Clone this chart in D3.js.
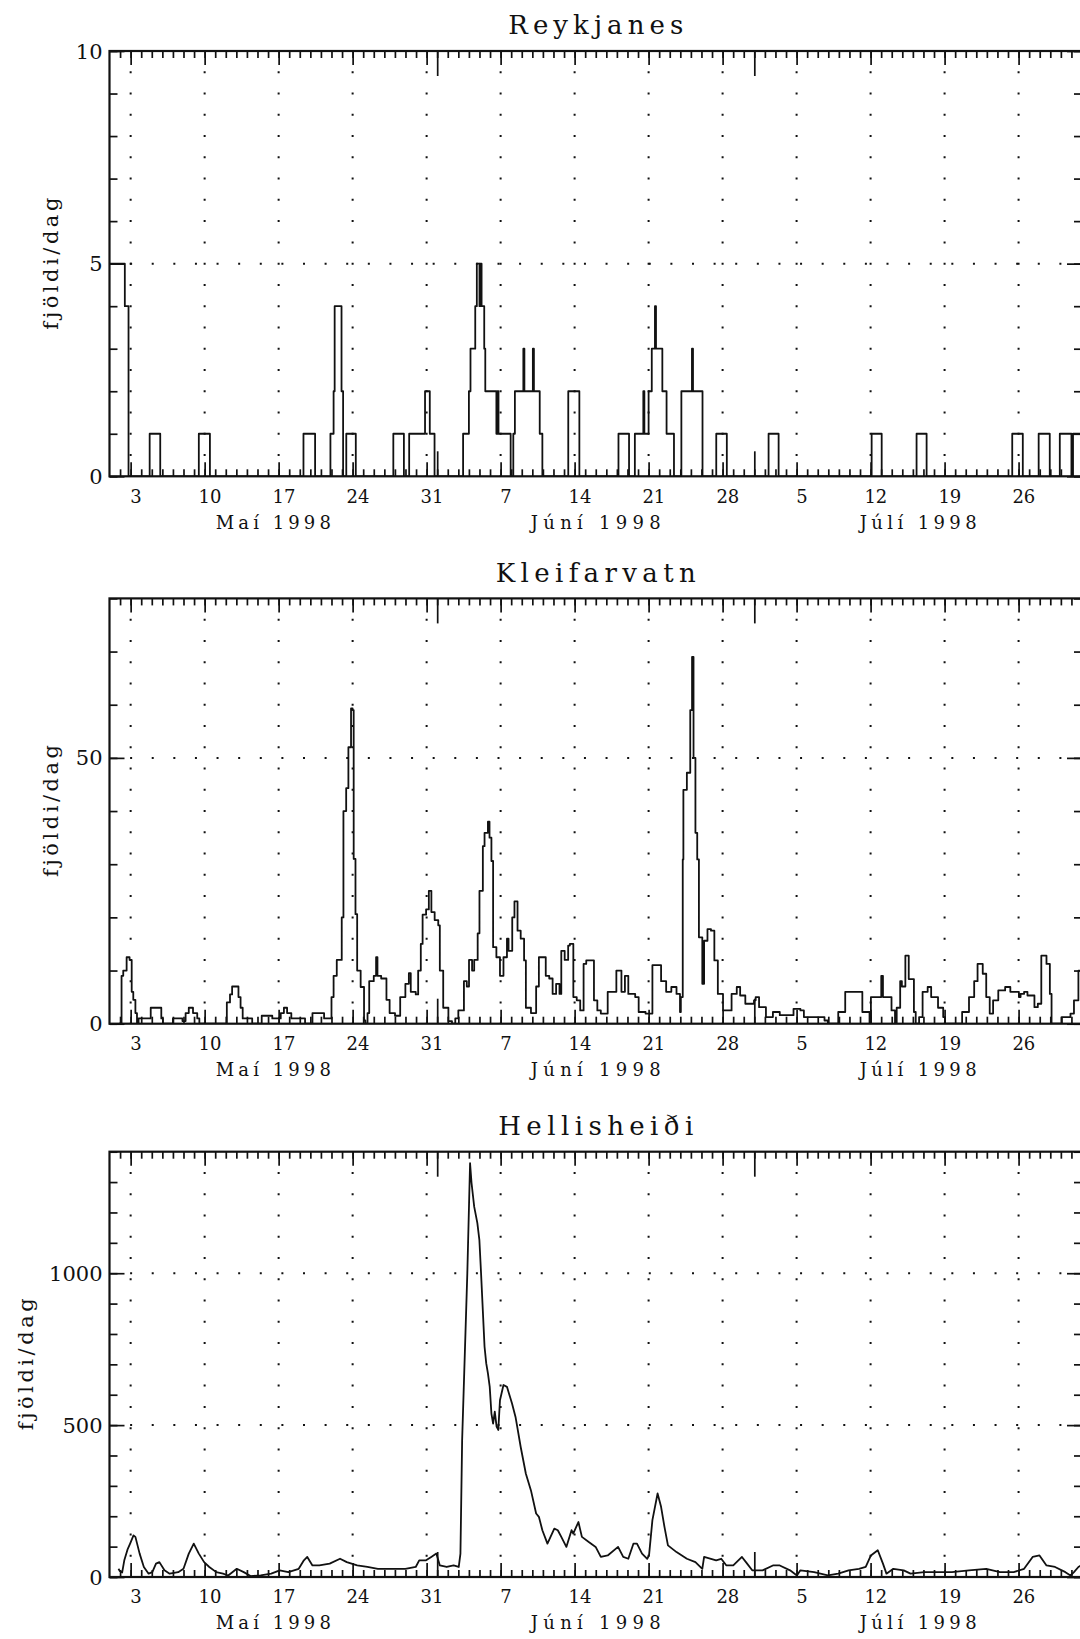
<!DOCTYPE html>
<html>
<head>
<meta charset="utf-8">
<script src="https://cdn.jsdelivr.net/npm/d3@7"></script>
<style>
  body { margin: 0; background: #fff; }
  svg text { font-family: "DejaVu Serif", serif; fill: #111; }
</style>
</head>
<body>
<div id="chart"></div>
<script>
// days are counted from 1 May 1998 00:00, the plots run to 1 Aug 1998
const weekDays = [2, 9, 16, 23, 30, 37, 44, 51, 58, 65, 72, 79, 86]
const weekLabels = ["3", "10", "17", "24", "31", "7", "14", "21", "28", "5", "12", "19", "26"]
const monthStarts = [0, 31, 61, 92]
const monthLabels = ["Maí 1998", "Júní 1998", "Júlí 1998"]

const titles = ["Reykjanes", "Kleifarvatn", "Hellisheiði"]
const yTitle = "fjöldi/dag"
const yMax = [10, 80, 1400]
const yMinorStep = [1, 10, 100]
const yMajor = [[0, 5, 10], [0, 50], [0, 500, 1000]]

// Reykjanes, step values (value holds from that day on)
const reykDay = [0, 1.45, 1.8, 3.8, 4.8, 8.45, 9.5, 18.35, 19.45, 20.9, 21.2, 21.3, 21.95, 22.1, 22.4, 23.3,
  26.85, 27.85, 28.35, 29.85, 30.3, 30.75, 33.45, 34.0, 34.15, 34.6, 34.75, 35.0, 35.05, 35.2, 35.45, 35.55,
  36.6, 36.7, 36.8, 37.95, 38.2, 38.35, 39.15, 39.25, 40.05, 40.15, 40.7, 40.95, 43.4, 44.45, 48.15, 49.15,
  49.7, 50.5, 50.6, 51.0, 51.3, 51.6, 51.7, 52.3, 52.7, 53.4, 54.1, 55.1, 55.2, 56.1, 57.4, 58.4,
  62.35, 63.3, 72.1, 73.05, 76.35, 77.3, 85.4, 86.4, 87.9, 88.95, 89.9, 91.0, 91.15, 92]
const reykVal = [5, 4, 0, 1, 0, 1, 0, 1, 0, 1, 2, 4, 2, 0, 1, 0,
  1, 0, 1, 2, 1, 0, 1, 2, 3, 4, 5, 4, 5, 4, 3, 2,
  1, 2, 1, 0, 1, 2, 3, 2, 3, 2, 1, 0, 2, 0, 1, 0,
  1, 2, 1, 2, 3, 4, 3, 2, 1, 0, 2, 3, 2, 0, 1, 0,
  1, 0, 1, 0, 1, 0, 1, 0, 1, 0, 1, 0, 1, 1]

// Kleifarvatn
const kleifDay = [0.9, 1.0, 1.14, 1.3, 1.62, 1.9, 2.1, 2.25, 2.45, 2.6,
  2.75, 3.5, 3.9, 4.6, 4.9, 5.05,
  6.0, 6.5, 6.9, 7.2, 7.5, 7.9, 8.3, 8.5,
  10.9, 11.1, 11.4, 11.6, 11.95, 12.2, 12.4, 12.6, 13.2, 13.5,
  14.2, 14.4, 15.2, 15.4, 16.0, 16.2, 16.5, 16.8, 17.2, 18.2, 18.5, 19.0, 19.2, 19.9, 20.3, 20.8,
  21.0, 21.2, 21.5, 21.85, 21.97, 22.13, 22.39, 22.6, 22.85, 23.0, 23.1, 23.27, 23.43, 23.76, 24.08, 24.2,
  24.41, 24.57, 25.0, 25.22, 25.35, 25.7, 26.2, 26.5, 26.8, 27.01, 27.5, 27.99, 28.32, 28.5, 28.97, 29.2,
  29.45, 29.62, 29.95, 30.21, 30.45, 30.76, 31.1, 31.25, 31.57, 32.06, 32.4,
  32.71, 33.0, 33.53, 33.8, 34.01, 34.3, 34.5, 34.83, 35.0, 35.32, 35.48, 35.8, 35.95, 36.13, 36.29, 36.6,
  36.94, 37.27, 37.6, 37.75, 38.1, 38.31, 38.6, 38.9, 39.22, 39.39, 39.87, 40.36,
  40.62, 40.95, 41.27, 41.6, 41.92, 42.25, 42.57, 42.74, 43.06, 43.39, 43.55, 43.88, 44.2, 44.53, 44.85, 45.1,
  45.66, 45.83, 46.15, 46.48, 47.13, 47.95, 48.43, 48.76, 49.08, 49.73, 50.06, 50.71, 51.04, 51.36, 52.01, 52.18,
  52.66, 53.15, 53.64, 53.97,
  54.05, 54.23, 54.29, 54.62, 54.94, 55.11, 55.25, 55.43, 55.6, 55.76, 56.08, 56.25, 56.57, 56.9, 57.22, 57.55,
  58.04, 58.36, 58.85, 59.34, 59.66, 60.15, 60.97, 61.13, 61.45, 62.1, 62.76, 63.41, 64.71, 65.36, 65.69, 66.66,
  67.64, 67.96,
  68.6, 68.94, 69.6, 70.4, 71.22, 71.9, 72.03, 72.85, 73.01, 73.17, 73.82, 73.98, 74.31, 74.47, 74.8, 74.96,
  75.29, 75.61, 76.1, 76.27, 76.59, 76.92, 77.4, 77.73, 78.38, 78.87, 79.03,
  80.2, 80.66, 81.31, 81.8, 82.12, 82.61, 82.94, 83.27, 83.59, 84.08, 84.73, 85.22, 85.54, 86.03, 86.19, 86.52,
  86.84, 87.5, 87.82, 88.15, 88.64, 88.96, 89.12, 90.1, 90.91, 91.24, 91.66, 92]
const kleifVal = [0, 0, 9, 10, 12.5, 12, 6, 4.5, 2, 0,
  1, 1, 3, 3, 1, 0,
  1, 1, 0.5, 2, 3, 2, 1, 0,
  0, 4, 5.5, 7, 7, 5, 3, 1, 1, 0,
  0, 1.5, 1.5, 1, 1, 2, 3, 2, 1, 1, 0, 0, 2, 2, 1, 1,
  5, 9, 12, 12, 20, 40, 44.3, 52, 59.3, 59, 31, 20.6, 10, 6.9, 0.6, 0,
  2, 8, 9, 12.5, 9, 8.5, 4.5, 2, 2, 1.5, 5, 7.5, 9.5, 6, 5.5, 10,
  15, 20.5, 21.5, 25, 21, 19.5, 18.5, 10, 3, 0.5, 0,
  1, 2.5, 8, 7, 12, 10, 12, 17, 25, 33.4, 35.9, 38, 35, 30.6, 14.4, 12.5,
  9, 12.5, 16, 13.7, 20, 23, 17.5, 16, 11.9, 3, 2, 7,
  12.5, 12.5, 9, 8.5, 5.6, 7.5, 5.6, 13.7, 12, 14.7, 15, 5, 4.4, 2.5, 11.25, 11.9,
  11.9, 4.4, 2.5, 1.9, 6, 10, 6, 9, 5.6, 5, 2.2, 1.9, 1.9, 11, 11, 8,
  6, 6.9, 5.6, 2.2,
  5, 30.9, 44, 47.2, 59, 69, 50, 35.9, 30.9, 16.25, 7.5, 15.6, 17.8, 17.5, 11.9, 5.6,
  2.5, 2.5, 5.6, 6.9, 5.3, 3.75, 4.4, 5, 3.1, 1.25, 2.2, 1.6, 2.8, 2.5, 1.25, 1.25,
  0.6, 0,
  0, 2.2, 6, 6, 2.2, 0, 5, 5, 9, 5, 5, 2.5, 0, 3, 8, 7,
  12.8, 8.4, 2.2, 0, 1.25, 6, 6.9, 5, 3, 1.25, 0,
  0, 2.2, 5, 8, 11.25, 9.4, 5, 1.9, 4.4, 6.25, 6.9, 6, 6, 5, 5.6, 6,
  5.3, 3.1, 3.75, 12.8, 11.25, 5.6, 0, 1.25, 1.9, 4.4, 10, 10]

// Hellisheiði
const hellDay = [0.85, 0.97, 1.2, 1.4, 1.7, 1.95, 2.27, 2.45, 2.85, 3.25, 3.7, 4.05, 4.4, 4.72, 5.2, 5.69,
  6.5, 7.0, 7.5, 7.97, 8.45, 8.95, 9.44, 10.1, 10.74, 11.23, 12.04, 12.7, 13.34, 14.3, 15.3, 16.1, 16.92,
  17.9, 18.39, 18.71, 19.2, 19.85, 20.83, 21.81, 22.45, 23.43, 24.4, 25.39, 27.0, 27.99, 28.97, 29.3, 29.95,
  30.44, 30.92, 31.25, 31.9, 32.55, 33.04, 33.2,
  33.36, 33.85, 34.11, 34.25, 34.5, 34.8, 34.99, 35.15, 35.48, 35.64, 35.8, 35.97, 36.13, 36.29, 36.45, 36.62,
  36.78, 36.94, 37.27, 37.6, 38.08, 38.41, 38.57, 38.9, 39.39, 39.87, 40.36,
  40.62, 40.95, 41.43, 42.08, 42.41, 42.74, 43.22, 43.71, 43.87, 44.36, 44.69, 45.34, 45.99, 46.48, 47.13, 48.11,
  48.6, 49.08, 49.57, 49.9, 50.38, 50.87, 51.04, 51.36, 51.85, 52.18, 52.5, 52.83, 53.64, 54.62, 55.43, 56.08,
  56.25, 56.9, 57.39, 57.87, 58.36, 59.01, 59.83, 60.32, 60.8,
  61.78, 62.76, 63.41, 64.38, 65.03, 65.36, 66.66, 67.96, 68.94, 69.92, 70.9, 71.54, 72.03, 72.68, 73.17, 73.5,
  74.15, 75.13, 75.78, 77.08, 78.38, 79.69, 81.31, 82.94, 84.24, 85.54, 86.52, 87.33, 87.98, 88.64, 89.45, 90.43,
  90.91, 91.24, 91.66, 92]
const hellVal = [27, 20, 15, 55, 90, 110, 137, 132, 77, 33, 11, 16, 44, 49, 22, 11,
  16, 27, 77, 110, 77, 49, 33, 16, 11, 5, 27, 16, 3, 5, 11, 22, 16,
  27, 55, 66, 38, 38, 44, 60, 49, 38, 33, 27, 27, 27, 33, 55, 55,
  66, 77, 38, 33, 38, 33, 77,
  450, 1000, 1362, 1297, 1219, 1165, 1110, 1000, 758, 703, 670, 626, 538, 505, 544, 495,
  484, 582, 632, 626, 571, 527, 495, 428, 340, 285, 209,
  198, 154, 110, 159, 154, 132, 99, 154, 143, 181, 132, 115, 99, 66, 71, 99,
  66, 60, 110, 110, 77, 60, 71, 187, 275, 231, 165, 104, 82, 60, 49, 27,
  66, 60, 55, 60, 38, 38, 66, 44, 22,
  22, 38, 38, 22, 5, 22, 16, 5, 11, 22, 27, 33, 71, 88, 44, 11,
  27, 22, 11, 16, 16, 16, 22, 27, 16, 16, 27, 66, 71, 38, 33, 16,
  5, 16, 33, 40]

/** page layout */
const W = 1080, H = 1639
const xLeft = 109.5, xRight = 1082
const panelTop = [51, 598.4, 1151.7]
const plotH = 425.3
const titleWidth = [175, 200, 195]
const yTitleX = [52, 52, 27]
const ink = '#111'

let svg = d3.select('#chart')
  .append('svg')
  .attr('width', W)
  .attr('height', H)
  .style('background', '#fff')

let x = d3.scaleLinear().domain([0, 92]).range([xLeft, xRight])

const series = [
  { days: reykDay, vals: reykVal, curve: d3.curveStepAfter },
  { days: kleifDay, vals: kleifVal, curve: d3.curveStepAfter },
  { days: hellDay, vals: hellVal, curve: d3.curveLinear }
]

series.forEach((s, i) => drawPanel(i, s))

function drawPanel(i, s) {
  const top = panelTop[i]
  const bottom = top + plotH
  const y = d3.scaleLinear().domain([0, yMax[i]]).range([bottom, top])
  const g = svg.append('g')

  // dotted grid, one line per week
  const vGap = plotH / 20
  g.append('g').selectAll('line')
    .data(weekDays)
    .join('line')
    .attr('x1', d => x(d)).attr('x2', d => x(d))
    .attr('y1', top + vGap - 1).attr('y2', bottom)
    .attr('stroke', ink).attr('stroke-width', 2)
    .attr('stroke-dasharray', `2 ${vGap - 2}`)

  // dotted grid at the labelled values
  const hGap = (xRight - xLeft) / 45
  g.append('g').selectAll('line')
    .data(yMajor[i].filter(v => v > 0 && v < yMax[i]))
    .join('line')
    .attr('x1', xLeft + hGap - 1).attr('x2', xRight)
    .attr('y1', d => y(d)).attr('y2', d => y(d))
    .attr('stroke', ink).attr('stroke-width', 2)
    .attr('stroke-dasharray', `2 ${hGap - 2}`)

  // the series itself
  svg.append('clipPath').attr('id', `clip${i}`)
    .append('rect')
    .attr('x', xLeft).attr('y', top)
    .attr('width', xRight - xLeft).attr('height', plotH)

  const line = d3.line()
    .x(d => x(d[0]))
    .y(d => y(d[1]))
    .curve(s.curve)

  g.append('path')
    .datum(d3.zip(s.days, s.vals))
    .attr('clip-path', `url(#clip${i})`)
    .attr('d', line)
    .attr('fill', 'none')
    .attr('stroke', ink)
    .attr('stroke-width', 1.8)
    .attr('stroke-linejoin', 'round')

  // ticks on top and bottom: days, weeks, months
  const xTicks = [[d3.range(1, 92), 7], [weekDays, 14], [monthStarts.slice(1, 3), 25]]
  xTicks.forEach(([vals, len]) => {
    g.append('g')
      .attr('transform', `translate(0,${top})`)
      .call(d3.axisTop(x).tickValues(vals).tickSize(-len).tickFormat(''))
      .call(a => a.select('.domain').remove())
    g.append('g')
      .attr('transform', `translate(0,${bottom})`)
      .call(d3.axisBottom(x).tickValues(vals).tickSize(-len).tickFormat(''))
      .call(a => a.select('.domain').remove())
  })

  // ticks left and right
  const minor = d3.range(0, yMax[i] + yMinorStep[i] / 2, yMinorStep[i])
  const yTicks = [[minor, 8], [yMajor[i], 15]]
  yTicks.forEach(([vals, len]) => {
    g.append('g')
      .attr('transform', `translate(${xLeft},0)`)
      .call(d3.axisLeft(y).tickValues(vals).tickSize(-len).tickFormat(''))
      .call(a => a.select('.domain').remove())
    g.append('g')
      .attr('transform', `translate(${xRight},0)`)
      .call(d3.axisRight(y).tickValues(vals).tickSize(-len).tickFormat(''))
      .call(a => a.select('.domain').remove())
  })
  g.selectAll('.tick line').attr('stroke', ink).attr('stroke-width', 1.7)

  // frame
  g.append('rect')
    .attr('x', xLeft).attr('y', top)
    .attr('width', xRight - xLeft).attr('height', plotH)
    .attr('fill', 'none')
    .attr('stroke', ink)
    .attr('stroke-width', 2.2)

  // y labels
  g.append('g').selectAll('text')
    .data(yMajor[i])
    .join('text')
    .attr('x', xLeft - 7)
    .attr('y', d => y(d))
    .attr('dy', '0.36em')
    .attr('text-anchor', 'end')
    .style('font-size', '21px')
    .text(d => d)

  // day labels under the weeks
  g.append('g').selectAll('text')
    .data(weekDays)
    .join('text')
    .attr('x', d => x(d + 0.5))
    .attr('y', bottom + 20)
    .attr('dy', '0.36em')
    .attr('text-anchor', 'middle')
    .style('font-size', '18px')
    .text((d, j) => weekLabels[j])

  // month labels
  const monthWidth = [115, 130, 117]
  g.append('g').selectAll('text')
    .data(monthLabels)
    .join('text')
    .attr('x', (d, j) => x((monthStarts[j] + monthStarts[j + 1]) / 2))
    .attr('y', bottom + 46)
    .attr('dy', '0.36em')
    .attr('text-anchor', 'middle')
    .attr('textLength', (d, j) => monthWidth[j])
    .attr('lengthAdjust', 'spacing')
    .style('font-size', '18px')
    .text(d => d)

  // title
  g.append('text')
    .attr('x', (xLeft + xRight) / 2)
    .attr('y', top - 26)
    .attr('dy', '0.36em')
    .attr('text-anchor', 'middle')
    .attr('textLength', titleWidth[i])
    .attr('lengthAdjust', 'spacing')
    .style('font-size', '26px')
    .text(titles[i])

  // y axis title
  g.append('text')
    .attr('transform', `translate(${yTitleX[i]},${top + plotH / 2}) rotate(-90)`)
    .attr('dy', '0.3em')
    .attr('text-anchor', 'middle')
    .attr('textLength', 132)
    .attr('lengthAdjust', 'spacing')
    .style('font-size', '21px')
    .text(yTitle)
}
</script>
</body>
</html>
